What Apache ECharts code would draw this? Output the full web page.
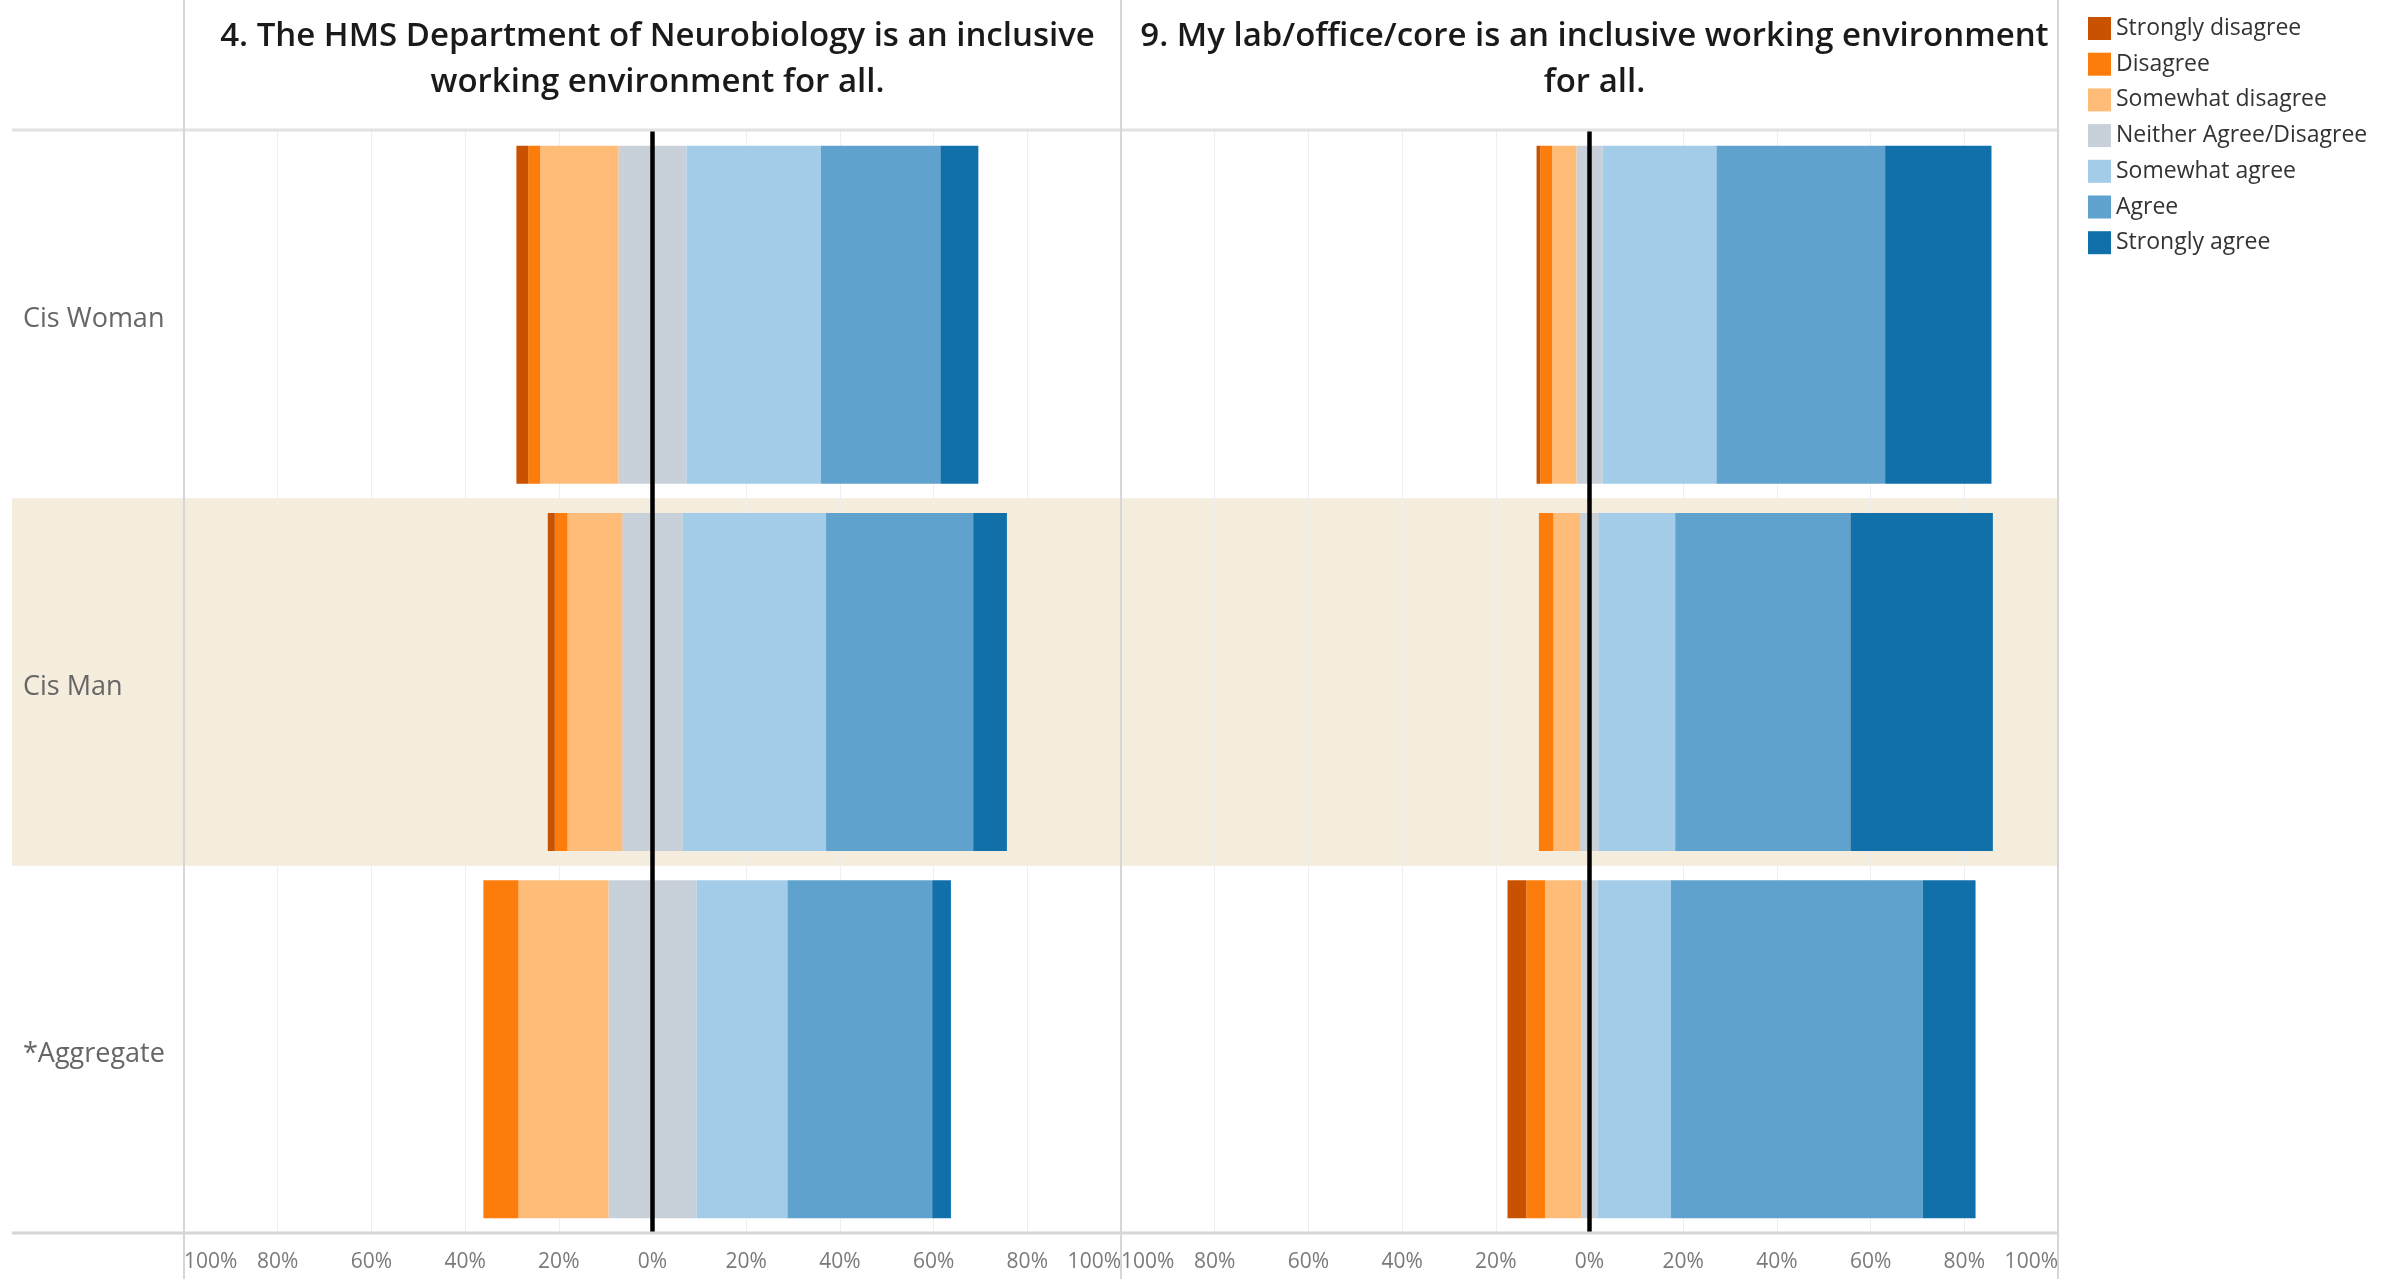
<!DOCTYPE html>
<html>
<head>
<meta charset="utf-8">
<script src="https://cdn.jsdelivr.net/npm/echarts@6/dist/echarts.min.js"></script>
<style>html,body{margin:0;padding:0;background:#fff;}#c{width:2407px;height:1279px;}</style>
</head>
<body>
<div id="c"></div>
<script>
// ---------- DATA ----------
const categories = ['Cis Woman', 'Cis Man', '*Aggregate'];
const levels = ['Strongly disagree', 'Disagree', 'Somewhat disagree', 'Neither Agree/Disagree', 'Somewhat agree', 'Agree', 'Strongly agree'];
const q4Title = '4. The HMS Department of Neurobiology is an inclusive\nworking environment for all.';
const q9Title = '9. My lab/office/core is an inclusive working environment\nfor all.';
const tickValues = [-100, -80, -60, -40, -20, 0, 20, 40, 60, 80, 100];

// Q4 (percent of respondents), order follows categories
const q4StronglyDisagree = [2.5, 1.5, 0];
const q4Disagree         = [2.6, 2.7, 7.5];
const q4SomewhatDisagree = [16.7, 11.7, 19.2];
const q4Neither          = [14.5, 12.9, 18.8];
const q4SomewhatAgree    = [28.7, 30.6, 19.4];
const q4Agree            = [25.5, 31.4, 30.9];
const q4StronglyAgree    = [8.1, 7.2, 4.0];

// Q9
const q9StronglyDisagree = [0.8, 0, 4.0];
const q9Disagree         = [2.5, 3.1, 4.0];
const q9SomewhatDisagree = [5.2, 5.7, 7.8];
const q9Neither          = [5.6, 4.0, 3.4];
const q9SomewhatAgree    = [24.3, 16.3, 15.7];
const q9Agree            = [36.0, 37.4, 53.7];
const q9StronglyAgree    = [22.7, 30.4, 11.3];

// ---------- STYLE ----------
const colors = ['#c85200', '#fc7d0b', '#ffbc79', '#c8d0d9', '#a3cce9', '#5fa2ce', '#1170aa'];
const bandColor = '#f4ecdc';
const frameColor = '#d6d6d6';
const L = { labelLeft: 12, panelLeft: 184, panelW: 937, top: 131, height: 1102 };

function panelSeries(g, sd, d, swd, n, swa, a, sa) {
  const neg = v => v.map(x => -x);
  const half = v => v.map(x => x / 2);
  const base = (name, ci, data) => ({
    type: 'bar', name, stack: 'p' + g, xAxisIndex: g, yAxisIndex: g,
    barWidth: '92%', data, itemStyle: { color: colors[ci] }, silent: true
  });
  const list = [
    base(levels[3], 3, neg(half(n))),
    base(levels[2], 2, neg(swd)),
    base(levels[1], 1, neg(d)),
    base(levels[0], 0, neg(sd)),
    base(levels[3], 3, half(n)),
    base(levels[4], 4, swa),
    base(levels[5], 5, a),
    base(levels[6], 6, sa)
  ];
  list[7].markLine = {
    silent: true, symbol: ['none', 'none'], label: { show: false },
    lineStyle: { color: '#000', width: 4.5, type: 'solid' },
    data: [{ xAxis: 0 }]
  };
  return list;
}

const valueAxis = (g) => ({
  type: 'value', gridIndex: g, min: -100, max: 100, interval: 20,
  axisLine: { show: false }, axisTick: { show: false },
  splitLine: { show: true, lineStyle: { color: '#efefef', width: 1 } },
  axisLabel: {
    color: '#7a7a7a', fontSize: 21, fontFamily: 'Open Sans', margin: 19,
    alignMinLabel: 'left', alignMaxLabel: 'right',
    formatter: v => Math.abs(v) + '%'
  }
});
const catAxis = (g) => ({
  type: 'category', gridIndex: g, data: categories, inverse: true,
  axisLine: { show: false }, axisTick: { show: false }, axisLabel: { show: false },
  splitLine: { show: false },
  splitArea: { show: true, areaStyle: { color: ['rgba(0,0,0,0)', bandColor] } }
});

const chart = echarts.init(document.getElementById('c'), null, { renderer: 'canvas' });
const right = L.panelLeft + 2 * L.panelW;
const bottom = L.top + L.height;
const titleStyle = { fontFamily: 'Open Sans', fontWeight: 600, fontSize: 33, lineHeight: 46, color: '#1a1a1a' };

chart.setOption({
  animation: false,
  backgroundColor: '#fff',
  title: [
    { text: q4Title, left: L.panelLeft + L.panelW / 2, top: 9, textAlign: 'center', textStyle: titleStyle },
    { text: q9Title, left: L.panelLeft + 1.5 * L.panelW, top: 9, textAlign: 'center', textStyle: titleStyle }
  ],
  legend: {
    orient: 'vertical', left: 2083, top: 12, icon: 'rect',
    itemWidth: 23, itemHeight: 23, itemGap: 12.7, selectedMode: false,
    data: levels,
    textStyle: { fontFamily: 'Open Sans', fontSize: 23, color: '#333', lineHeight: 23 }
  },
  grid: [
    { left: L.labelLeft, top: L.top, width: L.panelLeft - L.labelLeft, height: L.height },
    { left: L.panelLeft, top: L.top, width: L.panelW, height: L.height },
    { left: L.panelLeft + L.panelW, top: L.top, width: L.panelW, height: L.height }
  ],
  xAxis: [
    { type: 'value', gridIndex: 0, min: 0, max: 1, show: false },
    valueAxis(1), valueAxis(2)
  ],
  yAxis: [
    { type: 'category', gridIndex: 0, data: categories, inverse: true,
      axisLine: { show: false }, axisTick: { show: false },
      axisLabel: { inside: true, margin: 11, formatter: v => '{t|' + v + '}',
        rich: { t: { color: '#666', fontSize: 27, fontFamily: 'Open Sans', padding: [10, 0, 0, 0] } } },
      splitArea: { show: true, areaStyle: { color: ['rgba(0,0,0,0)', bandColor] } } },
    catAxis(1), catAxis(2)
  ],
  series: [
    ...panelSeries(1, q4StronglyDisagree, q4Disagree, q4SomewhatDisagree, q4Neither, q4SomewhatAgree, q4Agree, q4StronglyAgree),
    ...panelSeries(2, q9StronglyDisagree, q9Disagree, q9SomewhatDisagree, q9Neither, q9SomewhatAgree, q9Agree, q9StronglyAgree)
  ],
  graphic: [
    { type: 'line', silent: true, z: 10, shape: { x1: L.labelLeft, y1: L.top - 1, x2: right, y2: L.top - 1 }, style: { stroke: '#e2e2e2', lineWidth: 3 } },
    { type: 'line', silent: true, z: 10, shape: { x1: L.labelLeft, y1: bottom, x2: right, y2: bottom }, style: { stroke: frameColor, lineWidth: 3 } },
    { type: 'line', silent: true, z: 10, shape: { x1: L.panelLeft, y1: 0, x2: L.panelLeft, y2: 1279 }, style: { stroke: frameColor, lineWidth: 2 } },
    { type: 'line', silent: true, z: 10, shape: { x1: L.panelLeft + L.panelW, y1: 0, x2: L.panelLeft + L.panelW, y2: 1279 }, style: { stroke: frameColor, lineWidth: 2 } },
    { type: 'line', silent: true, z: 10, shape: { x1: right, y1: 0, x2: right, y2: 1279 }, style: { stroke: frameColor, lineWidth: 2 } }
  ]
});
</script>
</body>
</html>
